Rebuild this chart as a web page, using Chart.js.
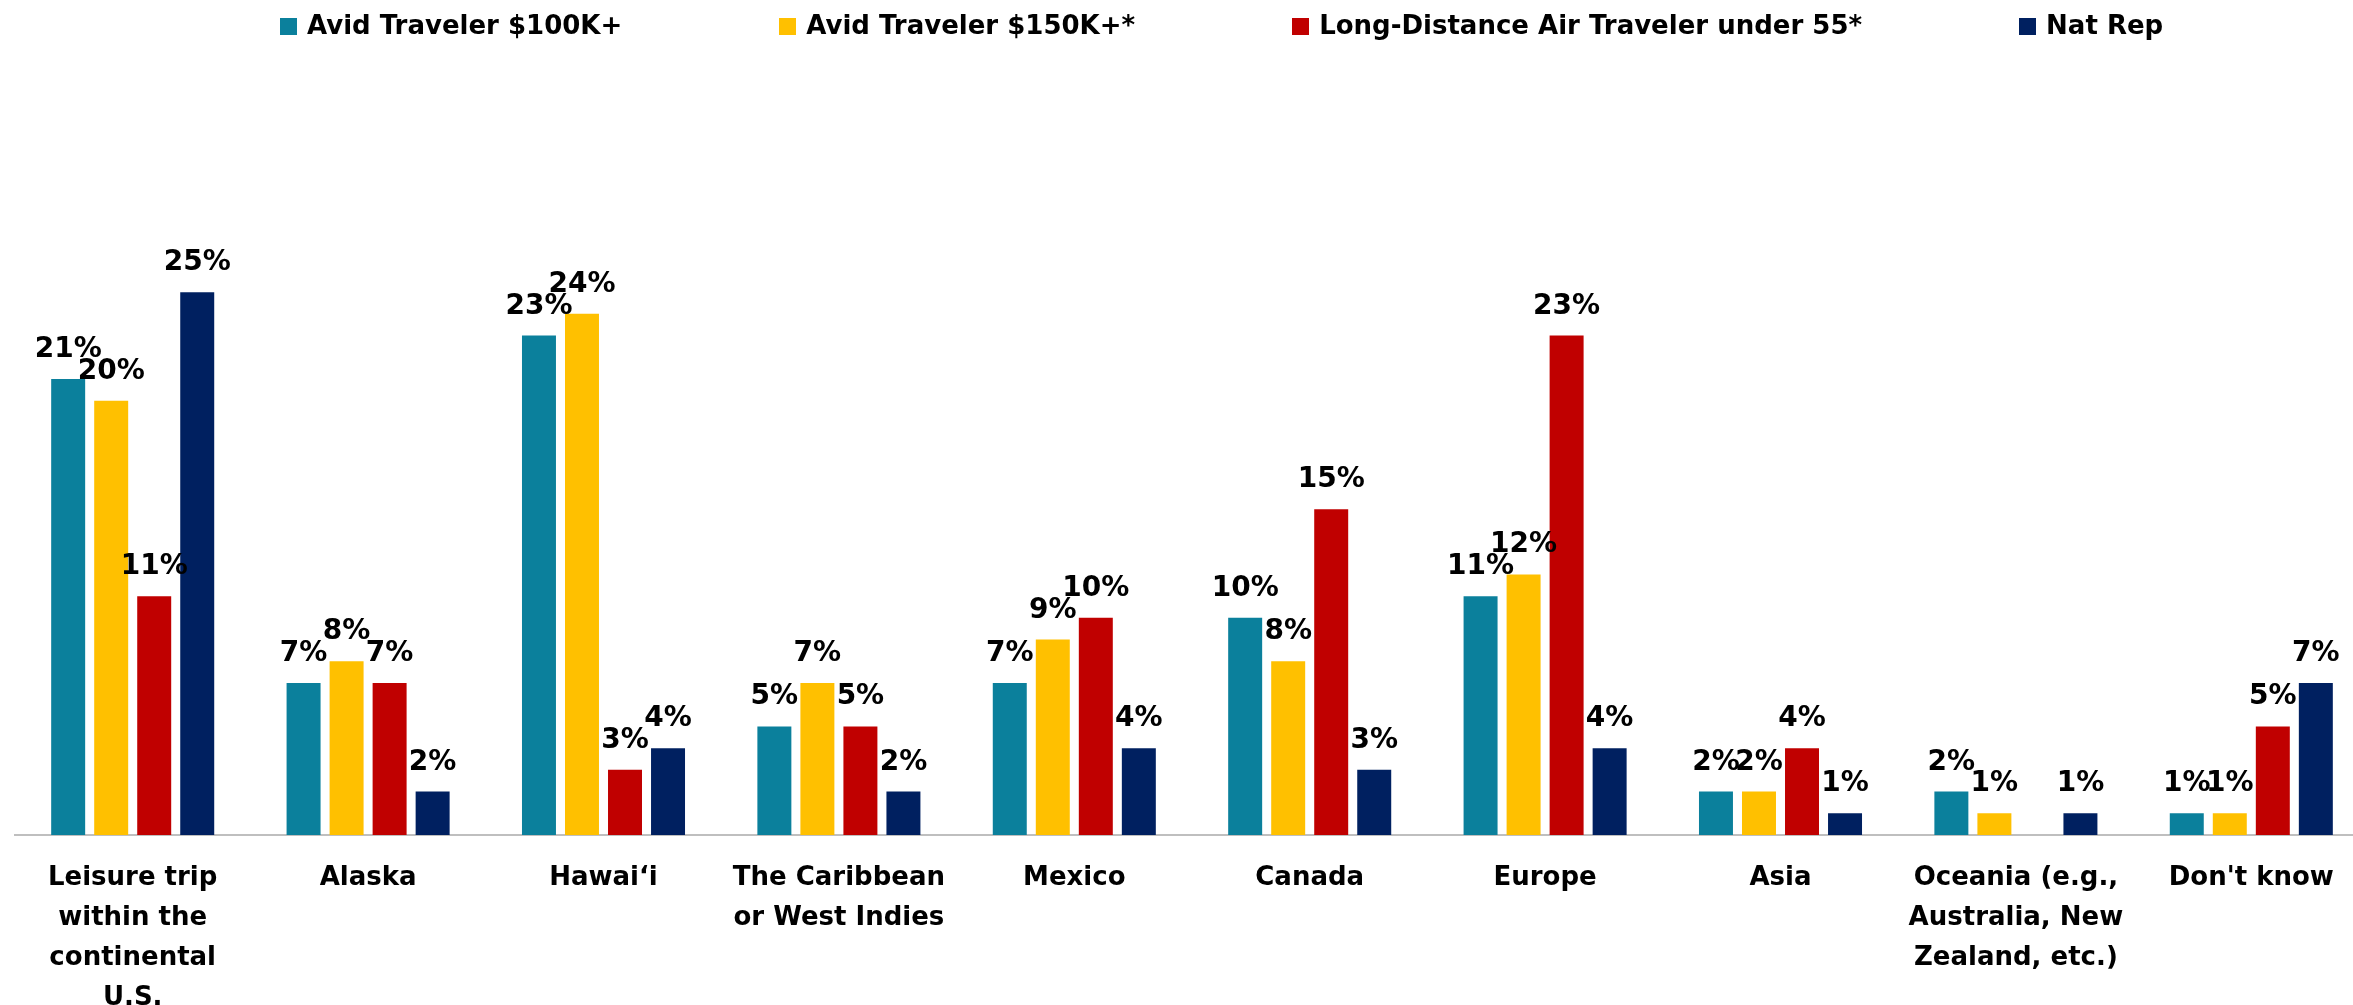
<!DOCTYPE html>
<html>
<head>
<meta charset="utf-8">
<script src="https://cdn.jsdelivr.net/npm/chart.js@4"></script>
<style>
  body { margin: 0; overflow: hidden; background: #fff; font-family: "DejaVu Sans", sans-serif; }
  #wrap { position: relative; width: 2353px; height: 1005px; overflow: hidden; }
  #legend { position: absolute; left: 280px; top: 12px; display: flex; gap: 157px; }
  #legend .item { display: flex; align-items: flex-start; font-weight: bold; font-size: 26px; line-height: 26px; color: #000; white-space: nowrap; }
  #legend .box { width: 17px; height: 17px; margin-top: 6px; margin-right: 10px; }
</style>
</head>
<body>
<div id="wrap">
  <canvas id="myChart" width="2380" height="1041"></canvas>
  <div id="legend"></div>
</div>
<script>
const categories = [
  ['Leisure trip', 'within the', 'continental', 'U.S.'],
  'Alaska',
  'Hawai\u2018i',
  ['The Caribbean', 'or West Indies'],
  'Mexico',
  'Canada',
  'Europe',
  'Asia',
  ['Oceania (e.g.,', 'Australia, New', 'Zealand, etc.)'],
  "Don't know"
];

const seriesNames = ['Avid Traveler $100K+', 'Avid Traveler $150K+*', 'Long-Distance Air Traveler under 55*', 'Nat Rep'];
const seriesColors = ['#0b809c', '#ffc000', '#c00000', '#002060'];

const avid100 = [21, 7, 23, 5, 7, 10, 11, 2, 2, 1];
const avid150 = [20, 8, 24, 7, 9, 8, 12, 2, 1, 1];
const longDistance = [11, 7, 3, 5, 10, 15, 23, 4, null, 5];
const natRep = [25, 2, 4, 2, 4, 3, 4, 1, 1, 7];

const seriesValues = [avid100, avid150, longDistance, natRep];

// legend drawn as html so the spacing can follow the original
const legendEl = document.getElementById('legend');
seriesNames.forEach((name, i) => {
  const item = document.createElement('div');
  item.className = 'item';
  const box = document.createElement('span');
  box.className = 'box';
  box.style.background = seriesColors[i];
  item.appendChild(box);
  item.appendChild(document.createTextNode(name));
  legendEl.appendChild(item);
});

// percent labels above bars
const barLabels = {
  id: 'barLabels',
  afterDatasetsDraw(chart) {
    const ctx = chart.ctx;
    ctx.save();
    ctx.font = 'bold 28px "DejaVu Sans"';
    ctx.fillStyle = '#000';
    ctx.textAlign = 'center';
    ctx.textBaseline = 'alphabetic';
    chart.data.datasets.forEach((ds, i) => {
      const meta = chart.getDatasetMeta(i);
      meta.data.forEach((bar, j) => {
        const v = ds.data[j];
        if (v == null) return;
        ctx.fillText(v + '%', bar.x, bar.y - 22);
      });
    });
    ctx.restore();
  }
};

var data = {
  labels: categories,
  datasets: seriesNames.map((name, i) => ({
    label: name,
    data: seriesValues[i],
    backgroundColor: seriesColors[i],
    borderWidth: 0,
    categoryPercentage: 0.731,
    barPercentage: 0.79
  }))
};

var ctx = document.getElementById('myChart').getContext('2d');
var myChart = new Chart(ctx, {
  type: 'bar',
  data: data,
  plugins: [barLabels],
  options: {
    responsive: false,
    animation: false,
    devicePixelRatio: 1,
    layout: { padding: { left: 15, right: 11, top: 75, bottom: 0 } },
    plugins: {
      legend: { display: false },
      tooltip: { enabled: false }
    },
    scales: {
      x: {
        grid: { display: false, drawTicks: false },
        border: { display: true, color: '#bfbfbf', width: 2 },
        ticks: {
          autoSkip: false,
          maxRotation: 0,
          minRotation: 0,
          padding: 23,
          color: '#000',
          font: { family: 'DejaVu Sans', weight: 'bold', size: 26, lineHeight: '40px' }
        }
      },
      y: {
        display: false,
        min: 0,
        max: 35
      }
    }
  }
});
</script>
</body>
</html>
